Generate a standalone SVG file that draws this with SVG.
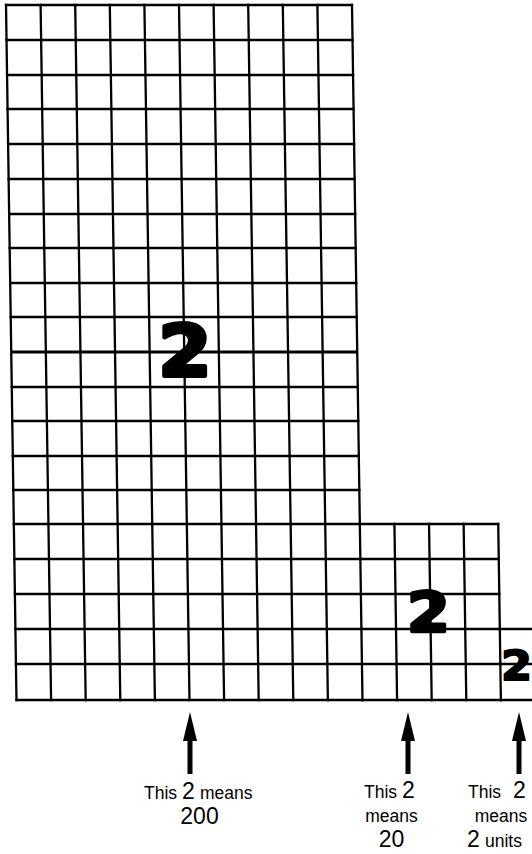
<svg xmlns="http://www.w3.org/2000/svg" width="532" height="854" viewBox="0 0 532 854">
<style>
.g{fill:none;stroke:#000;stroke-width:2.3;stroke-linecap:square}
.mid{fill:none;stroke:#000;stroke-width:3}
.big{font-family:"DejaVu Sans",sans-serif;font-weight:bold;fill:#000;stroke:#000;stroke-linejoin:round;text-anchor:middle}
.lbl{font-family:"Liberation Sans",Arial,sans-serif;font-size:17.5px;fill:#000}
.num{font-family:"Liberation Sans",Arial,sans-serif;font-size:23px;fill:#000}
.c{text-anchor:middle}
</style>
<rect width="532" height="854" fill="#fff"/>
<g transform="matrix(1 0 0.01509 1 -0.0754 0)">
<g id="hundreds">
<path class="g" d="M6 5H352M6 40H352M6 75H352M6 109H352M6 144H352M6 179H352M6 214H352M6 248H352M6 283H352M6 317H352M6 387H352M6 421H352M6 456H352M6 490H352M6 524H352M6 559H352M6 594H352M6 629H352M6 664H352M6 700H352"/>
<path class="g" d="M6 5V700M40.6 5V700M75.2 5V700M109.8 5V700M144.4 5V700M179 5V700M213.6 5V700M248.2 5V700M282.8 5V700M317.4 5V700M352 5V700"/>
<path class="mid" d="M6 352H352"/>
</g>
<g id="tens">
<path class="g" d="M352 524H490.4M352 559H490.4M352 594H490.4M352 629H490.4M352 664H490.4M352 700H490.4"/>
<path class="g" d="M386.6 524V700M421.2 524V700M455.8 524V700M490.4 524V700"/>
</g>
<g id="units">
<path class="g" d="M490.4 629H545M490.4 664H545M490.4 700H545"/>
</g>
</g>
<g id="digits">
<text class="big" x="185" y="376" font-size="71" stroke-width="4" transform="translate(185 0) scale(1.08 1) translate(-185 0)">2</text>
<text class="big" x="428.5" y="631.5" font-size="56" stroke-width="3" transform="translate(428.5 0) scale(1.1 1) translate(-428.5 0)">2</text>
<text class="big" x="516.5" y="680" font-size="40" stroke-width="2" transform="translate(516.5 0) scale(1.1 1) translate(-516.5 0)">2</text>
</g>
<g id="connectors" fill="#000">
<path d="M190 712L197 741H192.5V774H187.5V741H183Z"/>
<path d="M408 712L415 741H410.5V774H405.5V741H401Z"/>
<path d="M519 712L526 741H521.5V774H516.5V741H512Z"/>
</g>
<g id="label-200">
<text x="144" y="799"><tspan class="lbl">This</tspan><tspan class="num" x="182">2</tspan><tspan class="lbl" x="200">means</tspan></text>
<text class="num c" x="199.5" y="824">200</text>
</g>
<g id="label-20">
<text x="364" y="798"><tspan class="lbl">This</tspan><tspan class="num" x="402">2</tspan></text>
<text class="lbl c" x="391.5" y="822">means</text>
<text class="num c" x="391.5" y="847">20</text>
</g>
<g id="label-units">
<text x="468" y="798"><tspan class="lbl">This</tspan><tspan class="num" x="513">2</tspan></text>
<text class="lbl c" x="501" y="822">means</text>
<text x="467" y="847"><tspan class="num">2</tspan><tspan class="lbl" x="485">units</tspan></text>
</g>
</svg>
